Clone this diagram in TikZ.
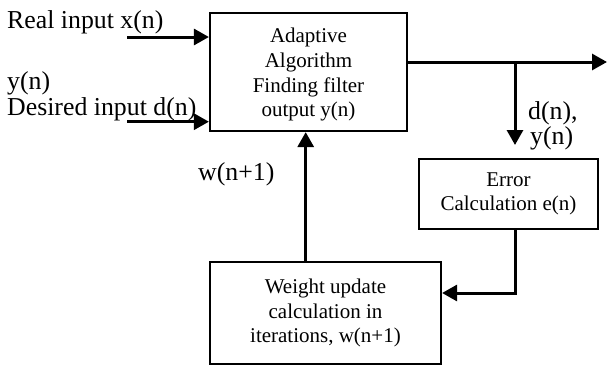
\documentclass[tikz,border=0pt]{standalone}
\usepackage{fontspec}
\setmainfont{Liberation Serif}
\usetikzlibrary{arrows.meta,calc}
\begin{document}
\begin{tikzpicture}[x=1pt,y=-1pt,
  blockbox/.style={draw, line width=2.2pt, inner sep=0pt, align=center,
    font=\fontsize{21}{24.7}\selectfont},
  arr/.style={line width=3pt, -{Triangle[length=15pt,width=16pt]}},
  plainline/.style={line width=3pt},
  outlabel/.style={anchor=base west, inner sep=0pt, font=\fontsize{25.8}{30}\selectfont}]
\useasboundingbox (0,0) rectangle (608,367);

% blocks
\node[blockbox, minimum width=197pt, minimum height=118pt] (alg) at (308.5,72)
  {\rule{0pt}{20.3pt}Adaptive\\Algorithm\\Finding filter\\output y(n)};
\node[blockbox, minimum width=179pt, minimum height=70pt] (err) at (508.5,194)
  {Error\\Calculation e(n)};
\node[blockbox, minimum width=231pt, minimum height=102pt] (wu) at (325.5,313)
  {Weight update\\calculation in\\iterations, w(n+1)};

% labels
\node[outlabel] (lx) at (7,28.5) {Real input x(n)};
\node[outlabel] (ly) at (7,89) {y(n)};
\node[outlabel] (ld) at (7,115) {Desired input d(n)};
\node[outlabel] (lw) at (198,180) {w(n+1)};
\node[outlabel] (ldn) at (528,119) {d(n),};
\node[outlabel] (lyn) at (530,144) {y(n)};

% connector points
\coordinate (xin) at (127,37);
\coordinate (din) at (127,121.7);
\coordinate (outend) at (607,62);
\coordinate (br) at (515,62);
\coordinate (brend) at (515,145);
\coordinate (fbk) at (515,293);
\coordinate (fbx) at (305.7,0);

% connectors
\draw[arr] (xin) -- (alg.west |- xin);
\draw[arr] (din) -- (alg.west |- din);
\draw[arr] (alg.east |- outend) -- (outend);
\draw[arr] (br) -- (brend);
\draw[arr] (err.south -| fbk) -- (fbk) -- (wu.east |- fbk);
\draw[arr] (wu.north -| fbx) -- (alg.south -| fbx);
\end{tikzpicture}
\end{document}
